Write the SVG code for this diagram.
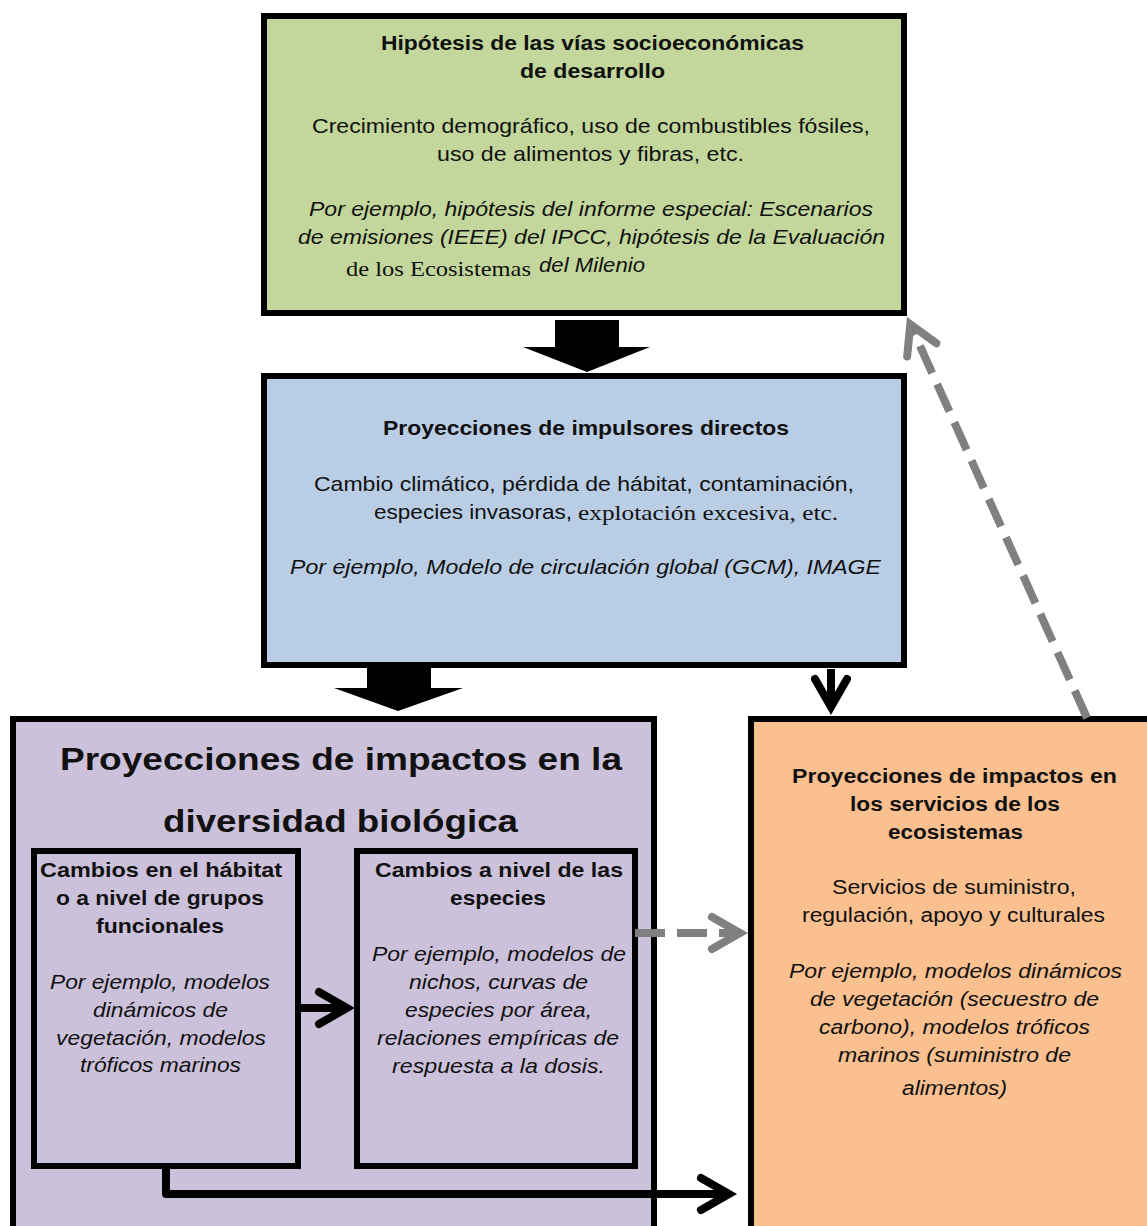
<svg xmlns="http://www.w3.org/2000/svg" width="1147" height="1226" viewBox="0 0 1147 1226">
<style>
.box{stroke:#000;stroke-width:6}
.t{font-family:"Liberation Sans",Arial,sans-serif;font-size:21px;fill:#111}
.b{font-weight:bold}
.i{font-style:italic}
.s{font-family:"Liberation Serif","Times New Roman",serif;font-size:21px;fill:#111}
.o{font-size:19.5px}
.big{font-size:32px}
.con{fill:none;stroke-width:8}
.blk{stroke:#000}
.gry{stroke:#808080;stroke-dasharray:30 12}
</style>
<defs>
<marker id="chevB" markerUnits="userSpaceOnUse" markerWidth="80" markerHeight="80" viewBox="-10 -40 80 80" refX="28" refY="0" orient="auto" overflow="visible">
<path d="M0,-16 L28,0 L0,16" fill="none" stroke="#000" stroke-width="8" stroke-linecap="round"/>
</marker>
<marker id="chevG" markerUnits="userSpaceOnUse" markerWidth="80" markerHeight="80" viewBox="-10 -40 80 80" refX="28" refY="0" orient="auto" overflow="visible">
<path d="M0,-16 L28,0 L0,16" fill="none" stroke="#808080" stroke-width="8" stroke-linecap="round"/>
</marker>
</defs>

<g id="node-hipotesis">
<rect class="box" x="264" y="16" width="640" height="297" fill="#c3d69b"/>
<text class="t b" x="381" y="50" textLength="423" lengthAdjust="spacingAndGlyphs">Hipótesis de las vías socioeconómicas</text>
<text class="t b" x="520" y="78" textLength="145" lengthAdjust="spacingAndGlyphs">de desarrollo</text>
<text class="t" x="312" y="133" textLength="558" lengthAdjust="spacingAndGlyphs">Crecimiento demográfico, uso de combustibles fósiles,</text>
<text class="t" x="437" y="161" textLength="307" lengthAdjust="spacingAndGlyphs">uso de alimentos y fibras, etc.</text>
<text class="t i" x="309" y="216" textLength="564" lengthAdjust="spacingAndGlyphs">Por ejemplo, hipótesis del informe especial: Escenarios</text>
<text class="t i" x="298" y="244" textLength="587" lengthAdjust="spacingAndGlyphs">de emisiones (IEEE) del IPCC, hipótesis de la Evaluación</text>
<text class="s" x="346" y="276" textLength="185" lengthAdjust="spacingAndGlyphs">de los Ecosistemas</text>
<text class="t i" x="539" y="272" textLength="106" lengthAdjust="spacingAndGlyphs">del Milenio</text>
</g>

<g id="node-impulsores">
<rect class="box" x="264" y="376" width="640" height="289" fill="#b9cde5"/>
<text class="t b" x="383" y="435" textLength="406" lengthAdjust="spacingAndGlyphs">Proyecciones de impulsores directos</text>
<text class="t" x="314" y="491" textLength="540" lengthAdjust="spacingAndGlyphs">Cambio climático, pérdida de hábitat, contaminación,</text>
<text class="t" x="374" y="519" textLength="198" lengthAdjust="spacingAndGlyphs">especies invasoras,</text>
<text class="s" x="578" y="520" textLength="260" lengthAdjust="spacingAndGlyphs">explotación excesiva, etc.</text>
<text class="t i" x="290" y="574" textLength="591" lengthAdjust="spacingAndGlyphs">Por ejemplo, Modelo de circulación global (GCM),  IMAGE</text>
</g>

<g id="node-biodiversidad">
<rect class="box" x="13" y="719" width="641" height="530" fill="#ccc1da"/>
<text class="t b big" x="60" y="770" textLength="562" lengthAdjust="spacingAndGlyphs">Proyecciones de impactos en la</text>
<text class="t b big" x="163" y="832" textLength="355" lengthAdjust="spacingAndGlyphs">diversidad biológica</text>
</g>

<g id="node-habitat">
<rect class="box" x="34" y="851" width="264" height="315" fill="#ccc1da"/>
<text class="t b" x="40" y="877" textLength="242" lengthAdjust="spacingAndGlyphs">Cambios en el hábitat</text>
<text class="t b" x="56" y="905" textLength="208" lengthAdjust="spacingAndGlyphs">o a nivel de grupos</text>
<text class="t b" x="96" y="933" textLength="128" lengthAdjust="spacingAndGlyphs">funcionales</text>
<text class="t i" x="50" y="989" textLength="220" lengthAdjust="spacingAndGlyphs">Por ejemplo, modelos</text>
<text class="t i" x="93" y="1017" textLength="135" lengthAdjust="spacingAndGlyphs">dinámicos de</text>
<text class="t i" x="56" y="1045" textLength="210" lengthAdjust="spacingAndGlyphs">vegetación, modelos</text>
<text class="t i" x="80" y="1072" textLength="161" lengthAdjust="spacingAndGlyphs">tróficos marinos</text>
</g>

<g id="node-especies">
<rect class="box" x="357" y="851" width="278" height="315" fill="#ccc1da"/>
<text class="t b" x="375" y="877" textLength="248" lengthAdjust="spacingAndGlyphs">Cambios a nivel de las</text>
<text class="t b" x="450" y="905" textLength="96" lengthAdjust="spacingAndGlyphs">especies</text>
<text class="t i" x="372" y="961" textLength="254" lengthAdjust="spacingAndGlyphs">Por ejemplo, modelos de</text>
<text class="t i" x="409" y="989" textLength="179" lengthAdjust="spacingAndGlyphs">nichos, curvas de</text>
<text class="t i" x="405" y="1017" textLength="187" lengthAdjust="spacingAndGlyphs">especies por área,</text>
<text class="t i" x="377" y="1045" textLength="242" lengthAdjust="spacingAndGlyphs">relaciones empíricas de</text>
<text class="t i" x="392" y="1073" textLength="213" lengthAdjust="spacingAndGlyphs">respuesta a la dosis.</text>
</g>

<g id="node-servicios">
<rect class="box" x="751" y="719" width="420" height="530" fill="#fac090"/>
<text class="t b o" x="792" y="783" textLength="325" lengthAdjust="spacingAndGlyphs">Proyecciones de impactos en</text>
<text class="t b o" x="850" y="811" textLength="210" lengthAdjust="spacingAndGlyphs">los servicios de los</text>
<text class="t b o" x="888" y="839" textLength="135" lengthAdjust="spacingAndGlyphs">ecosistemas</text>
<text class="t o" x="832" y="894" textLength="244" lengthAdjust="spacingAndGlyphs">Servicios de suministro,</text>
<text class="t o" x="802" y="922" textLength="303" lengthAdjust="spacingAndGlyphs">regulación, apoyo y culturales</text>
<text class="t i o" x="789" y="978" textLength="333" lengthAdjust="spacingAndGlyphs">Por ejemplo, modelos dinámicos</text>
<text class="t i o" x="810" y="1006" textLength="289" lengthAdjust="spacingAndGlyphs">de vegetación (secuestro de</text>
<text class="t i o" x="819" y="1034" textLength="271" lengthAdjust="spacingAndGlyphs">carbono), modelos tróficos</text>
<text class="t i o" x="838" y="1062" textLength="233" lengthAdjust="spacingAndGlyphs">marinos (suministro de</text>
<text class="t i o" x="902" y="1095" textLength="105" lengthAdjust="spacingAndGlyphs">alimentos)</text>
</g>

<g id="connectors">
<polygon points="555,320 619,320 619,347 650,347 587,372 523,347 555,347" fill="#000"/>
<polygon points="367,668 431,668 431,688 463,688 398,711 334,688 367,688" fill="#000"/>
<path class="con blk" d="M831,669 V707" marker-end="url(#chevB)"/>
<path class="con blk" d="M298,1008 H347" marker-end="url(#chevB)"/>
<path class="con blk" d="M166,1169 V1194 H729" stroke-linejoin="round" marker-end="url(#chevB)"/>
<path class="con gry" d="M635,933 H740" marker-end="url(#chevG)"/>
<path class="con gry" d="M1087,718 L910.3,324.3" marker-end="url(#chevG)"/>
</g>
</svg>
